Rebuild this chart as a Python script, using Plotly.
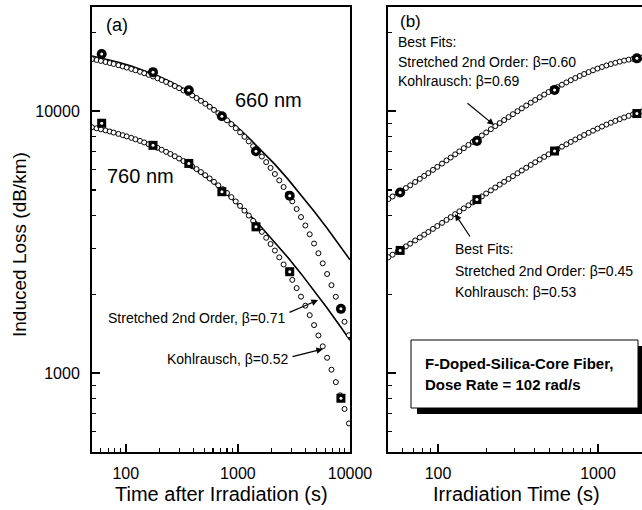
import plotly.graph_objects as go

# ---------------- data ----------------
# Panel (a): recovery after irradiation
t_meas_a = [61, 175, 365, 720, 1450, 2900, 8300]
loss660_a = [16540, 14100, 12030, 9570, 7030, 4760, 1760]
loss760_a = [9000, 7410, 6320, 4930, 3620, 2440, 802]

# Kohlrausch fit curves (open circles)
t_kohl_a = [50, 55, 60, 66, 72, 78, 86, 94, 102, 112, 122, 134, 146, 160, 175, 192, 209, 229, 250, 274,
            299, 327, 358, 391, 428, 468, 512, 560, 612, 669, 732, 800, 875, 957, 1046, 1144, 1251, 1368,
            1496, 1636, 1789, 1956, 2139, 2339, 2557, 2796, 3058, 3344, 3656, 3998, 4372, 4781, 5228,
            5716, 6251, 6835, 7474, 8173, 8937, 9772]
kohl660_a = [15824, 15690, 15563, 15419, 15281, 15151, 14986, 14829, 14681, 14505, 14338, 14149, 13971,
             13773, 13574, 13361, 13160, 12937, 12716, 12479, 12246, 12002, 11748, 11495, 11228, 10959,
             10683, 10401, 10117, 9827, 9528, 9229, 8924, 8614, 8304, 7989, 7672, 7353, 7034, 6714, 6394,
             6077, 5760, 5446, 5137, 4830, 4529, 4233, 3945, 3663, 3390, 3125, 2870, 2626, 2391, 2168,
             1957, 1758, 1571, 1396]
kohl760_a = [8687, 8608, 8533, 8448, 8368, 8291, 8194, 8103, 8016, 7913, 7815, 7705, 7601, 7486, 7369,
             7245, 7129, 6999, 6871, 6734, 6599, 6458, 6312, 6166, 6013, 5859, 5700, 5539, 5377, 5212,
             5042, 4873, 4700, 4526, 4351, 4174, 3997, 3819, 3642, 3464, 3288, 3113, 2939, 2768, 2600,
             2434, 2271, 2113, 1959, 1809, 1665, 1526, 1393, 1266, 1145, 1031, 924, 823, 730, 643]

# Stretched 2nd-order fit curves (solid lines)
t_str_a = [50, 66, 86, 112, 146, 192, 250, 327, 428, 560, 732, 957, 1251, 1636, 2139, 2796, 3656, 4781,
           6251, 8173, 10000]
str660_a = [16250, 15840, 15390, 14882, 14310, 13653, 12959, 12197, 11385, 10537, 9669, 8792, 7924, 7076,
            6267, 5505, 4799, 4154, 3574, 3057, 2709]
str760_a = [8760, 8515, 8248, 7948, 7613, 7231, 6832, 6398, 5940, 5466, 4988, 4509, 4041, 3589, 3162,
            2764, 2399, 2068, 1773, 1511, 1336]

# Panel (b): growth during irradiation
t_meas_b = [58, 175, 535, 1750]
loss660_b = [4895, 7695, 12065, 15920]
loss760_b = [2942, 4600, 7050, 9800]

t_fit_b = [49, 52, 56, 59, 63, 67, 72, 77, 82, 87, 93, 99, 106, 113, 120, 128, 136, 145, 155, 165, 176,
           188, 200, 214, 228, 243, 259, 276, 294, 314, 334, 356, 380, 405, 432, 461, 491, 523, 558, 595,
           634, 676, 721, 769, 819, 874, 931, 993, 1059, 1129, 1203, 1283, 1368, 1458, 1554, 1657, 1767,
           1884]
fit660_b = [4622, 4726, 4861, 4960, 5090, 5216, 5370, 5519, 5665, 5806, 5972, 6132, 6313, 6489, 6659,
            6847, 7028, 7226, 7438, 7641, 7857, 8082, 8299, 8541, 8773, 9011, 9252, 9498, 9745, 10006,
            10254, 10512, 10779, 11041, 11307, 11577, 11838, 12098, 12365, 12627, 12883, 13138, 13391,
            13638, 13873, 14110, 14332, 14549, 14757, 14953, 15136, 15309, 15469, 15613, 15742, 15856,
            15954, 16034]
fit760_b = [2771, 2833, 2914, 2972, 3048, 3122, 3211, 3297, 3380, 3461, 3555, 3646, 3748, 3846, 3941,
            4046, 4147, 4257, 4374, 4487, 4606, 4731, 4851, 4985, 5113, 5245, 5379, 5515, 5653, 5799,
            5939, 6085, 6236, 6386, 6540, 6696, 6849, 7003, 7163, 7322, 7479, 7639, 7799, 7959, 8116,
            8276, 8431, 8587, 8741, 8893, 9040, 9187, 9330, 9469, 9603, 9735, 9861, 9982]

# ticks
x_major = [100, 1000, 10000]
x_major_text = ["100", "1000", "10000"]
x_minor = [60, 70, 80, 90, 200, 300, 400, 500, 600, 700, 800, 900,
           2000, 3000, 4000, 5000, 6000, 7000, 8000, 9000]
y_major = [1000, 10000]
y_major_text = ["1000", "10000"]
y_minor_a = [600, 700, 800, 900, 2000, 3000, 4000, 5000, 6000, 7000, 8000, 20000]
y_minor_b = [600, 700, 800, 900, 2000, 3000, 4000, 5000, 6000, 7000, 8000, 9000, 20000]

# ---------------- figure ----------------
W, H = 642, 510
ML, MR, MT, MB = 92, 0, 7, 58
PW, PH = W - ML - MR, H - MT - MB
FONT = "Liberation Sans, Arial, Helvetica, sans-serif"
XA_RANGE = [1.69897, 4.0]
XB_RANGE = [1.6875, 3.275]
Y_RANGE = [2.699, 4.398]
XB_LEFT = 388


def px(x):
    return (x - ML) / PW


def py(y):
    return (H - MB - y) / PH


def bx(x):  # pixel -> log10 position on panel (b) x axis
    return XB_RANGE[0] + (x - XB_LEFT) * (XB_RANGE[1] - XB_RANGE[0]) / (W - XB_LEFT)


def by(y):  # pixel -> log10 position on y axes
    return Y_RANGE[1] - (y - MT) * (Y_RANGE[1] - Y_RANGE[0]) / PH


fig = go.Figure()

BLK = "black"
line_w = 1.6
open_marker = dict(symbol="circle", size=5, color="white", line=dict(color=BLK, width=1))

# panel (a)
fig.add_trace(go.Scatter(x=t_str_a, y=str660_a, mode="lines", line=dict(color=BLK, width=line_w),
                         xaxis="x", yaxis="y"))
fig.add_trace(go.Scatter(x=t_str_a, y=str760_a, mode="lines", line=dict(color=BLK, width=line_w),
                         xaxis="x", yaxis="y"))
for yy in (kohl660_a, kohl760_a):
    fig.add_trace(go.Scatter(x=t_kohl_a, y=yy, mode="markers", marker=open_marker, xaxis="x", yaxis="y"))
fig.add_trace(go.Scatter(x=t_meas_a, y=loss660_a, mode="markers",
                         marker=dict(symbol="circle", size=10, color=BLK), xaxis="x", yaxis="y"))
fig.add_trace(go.Scatter(x=t_meas_a, y=loss760_a, mode="markers",
                         marker=dict(symbol="square", size=9, color=BLK), xaxis="x", yaxis="y"))
for yy in (loss660_a, loss760_a):
    fig.add_trace(go.Scatter(x=t_meas_a, y=yy, mode="markers",
                             marker=dict(symbol="circle", size=3, color="white"), xaxis="x", yaxis="y"))

# panel (b)
for yy in (fit660_b, fit760_b):
    fig.add_trace(go.Scatter(x=t_fit_b, y=yy, mode="lines", line=dict(color=BLK, width=1.2),
                             xaxis="x2", yaxis="y2"))
for yy in (fit660_b, fit760_b):
    fig.add_trace(go.Scatter(x=t_fit_b, y=yy, mode="markers", marker=open_marker, xaxis="x2", yaxis="y2"))
fig.add_trace(go.Scatter(x=t_meas_b, y=loss660_b, mode="markers",
                         marker=dict(symbol="circle", size=10, color=BLK), xaxis="x2", yaxis="y2"))
fig.add_trace(go.Scatter(x=t_meas_b, y=loss760_b, mode="markers",
                         marker=dict(symbol="square", size=9, color=BLK), xaxis="x2", yaxis="y2"))
for yy in (loss660_b, loss760_b):
    fig.add_trace(go.Scatter(x=t_meas_b, y=yy, mode="markers",
                             marker=dict(symbol="circle", size=3, color="white"), xaxis="x2", yaxis="y2"))

axis_common = dict(type="log", showline=True, linecolor=BLK, linewidth=2, showgrid=False,
                   zeroline=False, ticks="inside", ticklen=8, tickwidth=1.5, tickcolor=BLK,
                   automargin=False, tickfont=dict(family=FONT, size=16, color=BLK))
minor_common = dict(ticks="inside", ticklen=4, tickwidth=1.2, tickcolor=BLK)

fig.update_layout(
    width=W, height=H, margin=dict(l=ML, r=MR, t=MT, b=MB, autoexpand=False),
    paper_bgcolor="white", plot_bgcolor="white", showlegend=False, hovermode=False,
    font=dict(family=FONT, color=BLK),
    xaxis=dict(**axis_common, domain=[0, px(350)], range=XA_RANGE, anchor="y", mirror=True,
               tickmode="array", tickvals=x_major, ticktext=x_major_text, ticklabelstandoff=6,
               minor=dict(tickvals=x_minor, **minor_common)),
    yaxis=dict(**axis_common, domain=[0, 1], range=Y_RANGE, anchor="x", mirror=True,
               tickmode="array", tickvals=y_major, ticktext=y_major_text, ticklabelstandoff=7,
               minor=dict(tickvals=y_minor_a, **minor_common)),
    xaxis2=dict(**axis_common, domain=[px(XB_LEFT), 1], range=XB_RANGE, anchor="y2", mirror=True,
                tickmode="array", tickvals=x_major, ticktext=x_major_text, ticklabelstandoff=6,
                minor=dict(tickvals=x_minor, **minor_common)),
    yaxis2=dict(**axis_common, domain=[0, 1], range=Y_RANGE, anchor="x2", mirror=False,
                tickmode="array", tickvals=y_major, showticklabels=False,
                minor=dict(tickvals=y_minor_b, **minor_common)),
)


def label(text, x, y, size=14, xanchor="center", bold=False, angle=0, panel=None):
    if panel == "b":
        pos = dict(x=bx(x), y=by(y), xref="x2", yref="y2")
    else:
        pos = dict(x=px(x), y=py(y), xref="paper", yref="paper")
    fig.add_annotation(text=("<b>%s</b>" % text) if bold else text, **pos,
                       xanchor=xanchor, yanchor="middle", showarrow=False, textangle=angle,
                       borderpad=0, font=dict(family=FONT, size=size, color=BLK))


def arrow(x0, y0, x1, y1, panel=None):
    if panel == "b":
        pos = dict(x=bx(x1), y=by(y1), xref="x2", yref="y2")
    else:
        pos = dict(x=px(x1), y=py(y1), xref="paper", yref="paper")
    fig.add_annotation(text="", **pos, ax=x0 - x1, ay=y0 - y1, axref="pixel", ayref="pixel",
                       showarrow=True, arrowhead=2, arrowsize=1.1, arrowwidth=1.2, arrowcolor=BLK)


# axis titles
label("Time after Irradiation (s)", 221, 494, size=20)
label("Irradiation Time (s)", 516, 494, size=20)
label("Induced Loss (dB/km)", 19, 245, size=19, angle=-90)

# panel (a) annotations
label("(a)", 117, 25, size=18)
label("660 nm", 268, 100, size=20)
label("760 nm", 140, 176, size=20)
label("Stretched 2nd Order, β=0.71", 287, 318, xanchor="right")
arrow(288, 313, 318, 300)
label("Kohlrausch, β=0.52", 290, 359, xanchor="right")
arrow(291, 357, 323, 349)

# panel (b) annotations
label("(b)", 410, 21, size=17, panel="b")
label("Best Fits:", 397, 42, xanchor="left", panel="b")
label("Stretched 2nd Order: β=0.60", 397, 62, xanchor="left", panel="b")
label("Kohlrausch: β=0.69", 397, 81, xanchor="left", panel="b")
arrow(466, 102, 494, 125, panel="b")

label("Best Fits:", 454, 249, xanchor="left", panel="b")
label("Stretched 2nd Order: β=0.45", 454, 271, xanchor="left", panel="b")
label("Kohlrausch: β=0.53", 454, 292, xanchor="left", panel="b")
arrow(471, 238, 455, 214, panel="b")

# boxed note with drop shadow
fig.add_shape(type="rect", xref="paper", yref="paper", x0=px(417), x1=px(645), y0=py(346), y1=py(414),
              fillcolor=BLK, line=dict(width=0), layer="above")
fig.add_shape(type="rect", xref="paper", yref="paper", x0=px(411), x1=px(638), y0=py(340), y1=py(408),
              fillcolor="white", line=dict(color=BLK, width=1), layer="above")
label("F-Doped-Silica-Core Fiber,", 424, 363, size=15, xanchor="left", bold=True, panel="b")
label("Dose Rate = 102 rad/s", 424, 384, size=15, xanchor="left", bold=True, panel="b")

fig.write_html("out.html", config={"displayModeBar": False, "staticPlot": True},
               post_script="document.body.style.margin='0px'; document.body.style.overflow='hidden';")
